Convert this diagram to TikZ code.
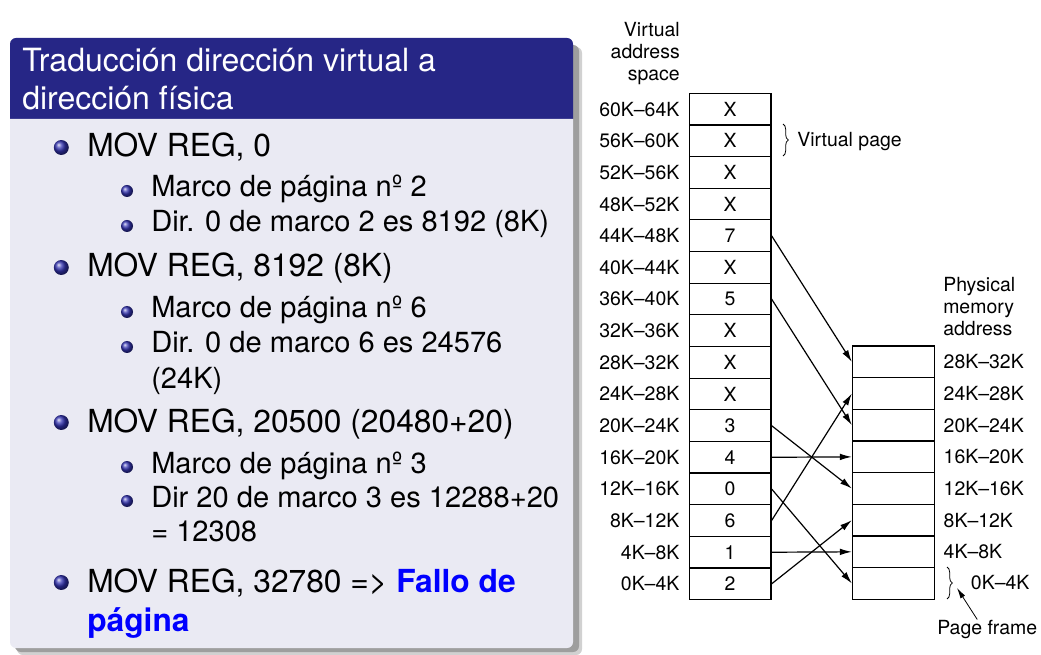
\documentclass[tikz,border=0pt]{standalone}
\usepackage{fontspec}
\setmainfont{TeX Gyre Heros}
\usetikzlibrary{positioning,arrows.meta,decorations.pathreplacing,calc}

\definecolor{blocktitle}{RGB}{38,38,134}
\definecolor{blockbody}{RGB}{234,234,243}
\definecolor{bulletblue}{RGB}{51,51,178}

\newcommand{\headfont}{\fontsize{24}{29}\selectfont}
\newcommand{\lvlonefont}{\fontsize{23.8}{29}\selectfont}
\newcommand{\lvltwofont}{\fontsize{21.8}{26}\selectfont}
\newcommand{\figfont}{\fontsize{14.6}{16.5}\selectfont}

\tikzset{
  cell/.style={draw,line width=0.9pt,minimum width=61.3pt,minimum height=23.74pt,inner sep=0pt,font=\figfont},
  rowlabel/.style={inner sep=0pt,font=\figfont},
  maparrow/.style={line width=0.9pt,-{Latex[length=9pt,width=5pt]}},
  bracket/.style={line width=0.6pt,decorate,decoration={brace,amplitude=4pt}},
  mainitem/.style={anchor=base west,inner sep=0pt,font=\lvlonefont},
  subitem/.style={anchor=base west,inner sep=0pt,font=\lvltwofont},
}

\begin{document}
\begin{tikzpicture}[x=0.75pt,y=-0.75pt]
\useasboundingbox (0,0) rectangle (1041,655);

% block with shadow
\fill[black!18,rounded corners=4.5pt] (17,47) rectangle (582,655);
\fill[black!38,rounded corners=4.5pt] (15,45) rectangle (579,652);
\fill[blocktitle] (10,119) [rounded corners=4.5pt] -- (10,38) -- (573,38) [sharp corners] -- (573,119) -- cycle;
\fill[blockbody] (10,119) [rounded corners=4.5pt] -- (10,648) -- (573,648) [sharp corners] -- (573,119) -- cycle;

\node[anchor=base west,inner sep=0pt,text=white,font=\headfont] (ttl1) at (22,72) {Traducción dirección virtual a};
\node[anchor=base west,inner sep=0pt,text=white,font=\headfont] (ttl2) at (22,110) {dirección física};

% items
\foreach \y in {157,277,432,592}
  \shade[ball color=bulletblue] (61.3,\y-9.5) circle (5.6pt);
\foreach \y in {197,232,318,353,473,507}
  \shade[ball color=bulletblue] (127,\y-6) circle (4.5pt);

\node[mainitem] (m1) at (87,157) {MOV REG, 0};
\node[subitem] (s1) at (151,197) {Marco de página nº 2};
\node[subitem] (s2) at (151,232) {Dir. 0 de marco 2 es 8192 (8K)};
\node[mainitem] (m2) at (87,277) {MOV REG, 8192 (8K)};
\node[subitem] (s3) at (151,318) {Marco de página nº 6};
\node[subitem] (s4) at (151,353) {Dir. 0 de marco 6 es 24576};
\node[subitem] (s4b) at (151,388) {(24K)};
\node[mainitem] (m3) at (87,432) {MOV REG, 20500 (20480+20)};
\node[subitem] (s5) at (151,473) {Marco de página nº 3};
\node[subitem] (s6) at (151,507) {Dir 20 de marco 3 es 12288+20};
\node[subitem] (s6b) at (151,541) {= 12308};
\node[mainitem] (m4) at (87,592) {MOV REG, 32780 => \textcolor{blue}{\bfseries Fallo de}};
\node[mainitem] (m4b) at (87,631) {\textcolor{blue}{\bfseries página}};

% virtual address space
\node[rowlabel,align=right,anchor=east] (vhead) at (680,54) {Virtual\\address\\space};
\foreach \e [count=\i from 0] in {X,X,X,X,7,X,5,X,X,X,3,4,0,6,1,2}{
  \pgfmathtruncatemacro\lo{4*(15-\i)}
  \pgfmathtruncatemacro\hi{\lo+4}
  \node[cell] (v\i) at (730.1,{93.3+31.65*(\i+0.5)}) {\e};
  \node[rowlabel,left=6.75pt of v\i] (vl\i) {\lo K--\hi K};
}
\draw[bracket] (783,124) -- (783,156);
\node[rowlabel,anchor=base west] (vpage) at (797,146.5) {Virtual page};

% physical memory
\node[rowlabel,align=left,anchor=west] (phead) at (943,307) {Physical\\memory\\address};
\foreach \j in {0,...,7}{
  \pgfmathtruncatemacro\lo{4*(7-\j)}
  \pgfmathtruncatemacro\hi{\lo+4}
  \node[cell] (p\j) at (893.3,{346.1+31.65*(\j+0.5)}) {};
  \ifnum\j<7
    \node[rowlabel,right=6.5pt of p\j] (pl\j) {\lo K--\hi K};
  \fi
}
\draw[bracket] (947,567) -- (947,599);
\coordinate (bt) at (957,588);
\node[rowlabel,anchor=west] (pl7) at (970.7,583) {0K--4K};
\node[rowlabel,anchor=base west] (pf) at (937,634) {Page frame};
\draw[line width=0.6pt,-{Latex[length=8pt,width=4pt]}] ($(pf.north)+(-10,0)$) -- (bt);

% page -> frame
\foreach \pg/\fr in {11/7,9/5,5/3,4/4,3/0,2/6,1/1,0/2}{
  \pgfmathtruncatemacro\vi{15-\pg}
  \pgfmathtruncatemacro\pj{7-\fr}
  \draw[maparrow] (v\vi.east) -- (p\pj.west);
}
\end{tikzpicture}
\end{document}
